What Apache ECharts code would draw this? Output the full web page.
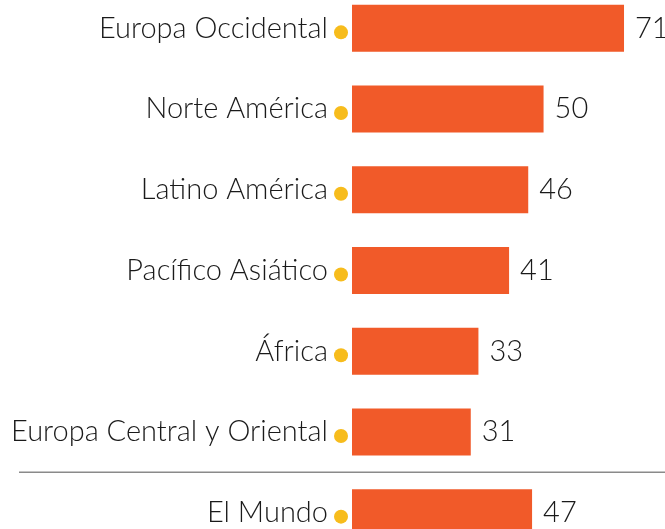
<!DOCTYPE html>
<html>
<head>
<meta charset="utf-8">
<script src="https://cdn.jsdelivr.net/npm/echarts@6/dist/echarts.min.js"></script>
<style>
  html, body { margin: 0; padding: 0; background: #fff; overflow: hidden; }
  #chart { position: absolute; left: 0; top: -12px; width: 665px; height: 565px; }
</style>
</head>
<body>
<div id="chart"></div>
<script>
  // regiones y valores
  var regiones = ['Europa Occidental', 'Norte América', 'Latino América', 'Pacífico Asiático', 'África', 'Europa Central y Oriental', 'El Mundo']
  var valores = [71, 50, 46, 41, 33, 31, 47]

  var chart = echarts.init(document.getElementById('chart'))

  var option = {
    backgroundColor: '#ffffff',
    animation: false,
    grid: {
      left: 352,
      right: 6.5,
      top: 0,
      bottom: 0
    },
    xAxis: {
      type: 'value',
      min: 0,
      max: 80,
      show: false
    },
    yAxis: {
      type: 'category',
      inverse: true,
      data: regiones,
      axisLine: { show: false },
      axisTick: { show: false },
      splitLine: { show: false },
      axisLabel: {
        margin: 24,
        color: '#1a1a1a',
        fontFamily: 'Lato',
        fontWeight: 300,
        fontSize: 29
      }
    },
    series: [
      {
        type: 'bar',
        data: valores,
        barWidth: 47,
        itemStyle: { color: '#F15A29' },
        label: {
          show: true,
          position: 'right',
          distance: 11,
          color: '#1a1a1a',
          fontFamily: 'Lato',
          fontWeight: 300,
          fontSize: 29
        }
      },
      {
        // puntos amarillos junto a las etiquetas
        type: 'scatter',
        data: regiones.map(function (r) { return [0, r] }),
        symbol: 'circle',
        symbolSize: 14,
        symbolOffset: [-11, 4],
        itemStyle: { color: '#F7BC1C', opacity: 1 },
        silent: true
      }
    ]
  }

  chart.setOption(option)

  // línea separadora entre las regiones y El Mundo
  var y1 = chart.convertToPixel({ yAxisIndex: 0 }, regiones[5])
  var y2 = chart.convertToPixel({ yAxisIndex: 0 }, regiones[6])
  chart.setOption({
    graphic: [{
      type: 'line',
      shape: { x1: 19, y1: (y1 + y2) / 2, x2: 665, y2: (y1 + y2) / 2 },
      style: { stroke: '#8a8a8a', lineWidth: 1.5 }
    }]
  })
</script>
</body>
</html>
